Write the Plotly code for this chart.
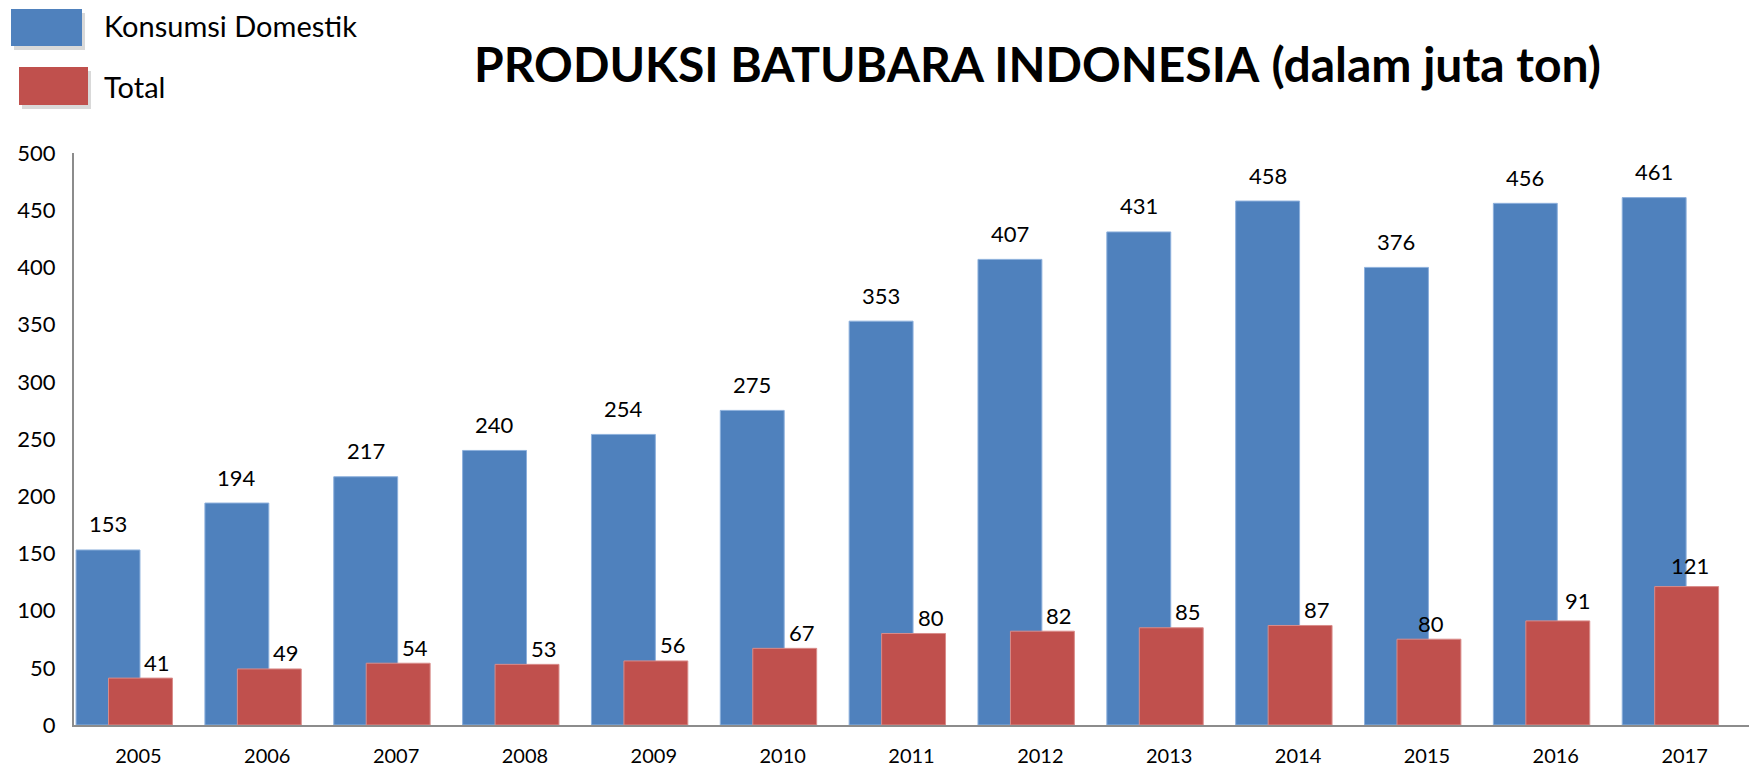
import plotly.graph_objects as go

years = ["2005", "2006", "2007", "2008", "2009", "2010", "2011",
         "2012", "2013", "2014", "2015", "2016", "2017"]
domestik = [153, 194, 217, 240, 254, 275, 353, 407, 431, 458, 400, 456, 461]
domestik_labels = ["153", "194", "217", "240", "254", "275", "353",
                   "407", "431", "458", "376", "456", "461"]
total = [41, 49, 54, 53, 56, 67, 80, 82, 85, 87, 75, 91, 121]
total_labels = ["41", "49", "54", "53", "56", "67", "80",
                "82", "85", "87", "80", "91", "121"]
y_ticks = [0, 50, 100, 150, 200, 250, 300, 350, 400, 450, 500]

BLUE = "#4F81BD"
RED = "#C0504D"
FONT = "Lato"
W, H = 1756, 768
ML, MR, MT, MB = 74, 7, 153, 43

# label placement style (pixel nudges for the "Total" value labels)
RED_LABEL_XSHIFT = {"default": 17, "2015": 2, "2016": 20, "2017": 3}
RED_LABEL_YSHIFT = {"default": 16, "2016": 20, "2017": 21}

xs = list(range(len(years)))
BW = 0.496
B_OFF = -0.484
R_OFF = -0.232

fig = go.Figure()
fig.add_trace(go.Bar(
    x=xs, y=domestik, name="Konsumsi Domestik",
    marker=dict(color=BLUE, line=dict(color="#8DB0DC", width=1)),
    width=[BW] * len(xs), offset=B_OFF, hoverinfo="skip",
))
fig.add_trace(go.Bar(
    x=xs, y=total, name="Total",
    marker=dict(color=RED, line=dict(color="#D98C8A", width=1)),
    width=[BW] * len(xs), offset=R_OFF, hoverinfo="skip",
))

pw = W - ML - MR
ph = H - MT - MB


def px_x(px):
    return (px - ML) / pw


def px_y(py):
    return (H - MB - py) / ph


annotations = []
for i, (v, t) in enumerate(zip(domestik, domestik_labels)):
    annotations.append(dict(
        x=i + B_OFF + BW / 2, y=v, xref="x", yref="y", text=t,
        showarrow=False, yanchor="middle", yshift=26,
        font=dict(family=FONT, size=22, color="#000000"),
    ))
for i, (v, t) in enumerate(zip(total, total_labels)):
    yr = years[i]
    annotations.append(dict(
        x=i + R_OFF + BW / 2, y=v, xref="x", yref="y", text=t,
        showarrow=False, yanchor="middle",
        yshift=RED_LABEL_YSHIFT.get(yr, RED_LABEL_YSHIFT["default"]),
        xshift=RED_LABEL_XSHIFT.get(yr, RED_LABEL_XSHIFT["default"]),
        font=dict(family=FONT, size=22, color="#000000"),
    ))

# title
annotations.append(dict(
    x=px_x(1037), y=px_y(64), xref="paper", yref="paper",
    text="<b>PRODUKSI BATUBARA INDONESIA</b> <b>(dalam juta ton)</b>",
    showarrow=False, xanchor="center", yanchor="middle",
    font=dict(family=FONT, size=48, color="#000000"),
))

shapes = []
legend_items = [("Konsumsi Domestik", BLUE, 11, 9, 82, 46, 25),
                ("Total", RED, 19, 67, 88, 105, 86)]
for name, col, x0, y0, x1, y1, ty in legend_items:
    shapes.append(dict(type="rect", xref="paper", yref="paper",
                       x0=px_x(x0 + 3), x1=px_x(x1 + 3),
                       y0=px_y(y1 + 4), y1=px_y(y0 + 4),
                       fillcolor="rgba(0,0,0,0.15)", line=dict(width=0),
                       layer="below"))
    shapes.append(dict(type="rect", xref="paper", yref="paper",
                       x0=px_x(x0), x1=px_x(x1), y0=px_y(y1), y1=px_y(y0),
                       fillcolor=col, line=dict(width=0)))
    annotations.append(dict(
        x=px_x(102), y=px_y(ty), xref="paper", yref="paper", text=name,
        showarrow=False, xanchor="left", yanchor="middle",
        font=dict(family=FONT, size=29, color="#000000"),
    ))

fig.update_layout(
    width=W, height=H,
    margin=dict(l=ML, r=MR, t=MT, b=MB, pad=0, autoexpand=False),
    paper_bgcolor="white", plot_bgcolor="white",
    barmode="overlay", showlegend=False,
    annotations=annotations, shapes=shapes,
    font=dict(family=FONT, color="#000000"),
)
fig.update_xaxes(
    range=[-0.5, len(years) - 0.5], tickmode="array",
    tickvals=xs, ticktext=years, showgrid=False, zeroline=False,
    showline=True, linecolor="#8C8C8C", linewidth=2, ticks="",
    tickfont=dict(family=FONT, size=20, color="#000000"),
    ticklabelstandoff=12, fixedrange=True, automargin=False,
)
fig.update_yaxes(
    range=[0, 500], tickmode="array", tickvals=y_ticks,
    showgrid=False, zeroline=False,
    showline=True, linecolor="#8C8C8C", linewidth=2, ticks="",
    tickfont=dict(family=FONT, size=22, color="#000000"),
    ticklabelstandoff=12, fixedrange=True, automargin=False,
)

fig.write_html(
    "out.html",
    config={"displayModeBar": False},
    post_script="document.body.style.margin='0';"
                "document.body.style.overflow='hidden';",
)
